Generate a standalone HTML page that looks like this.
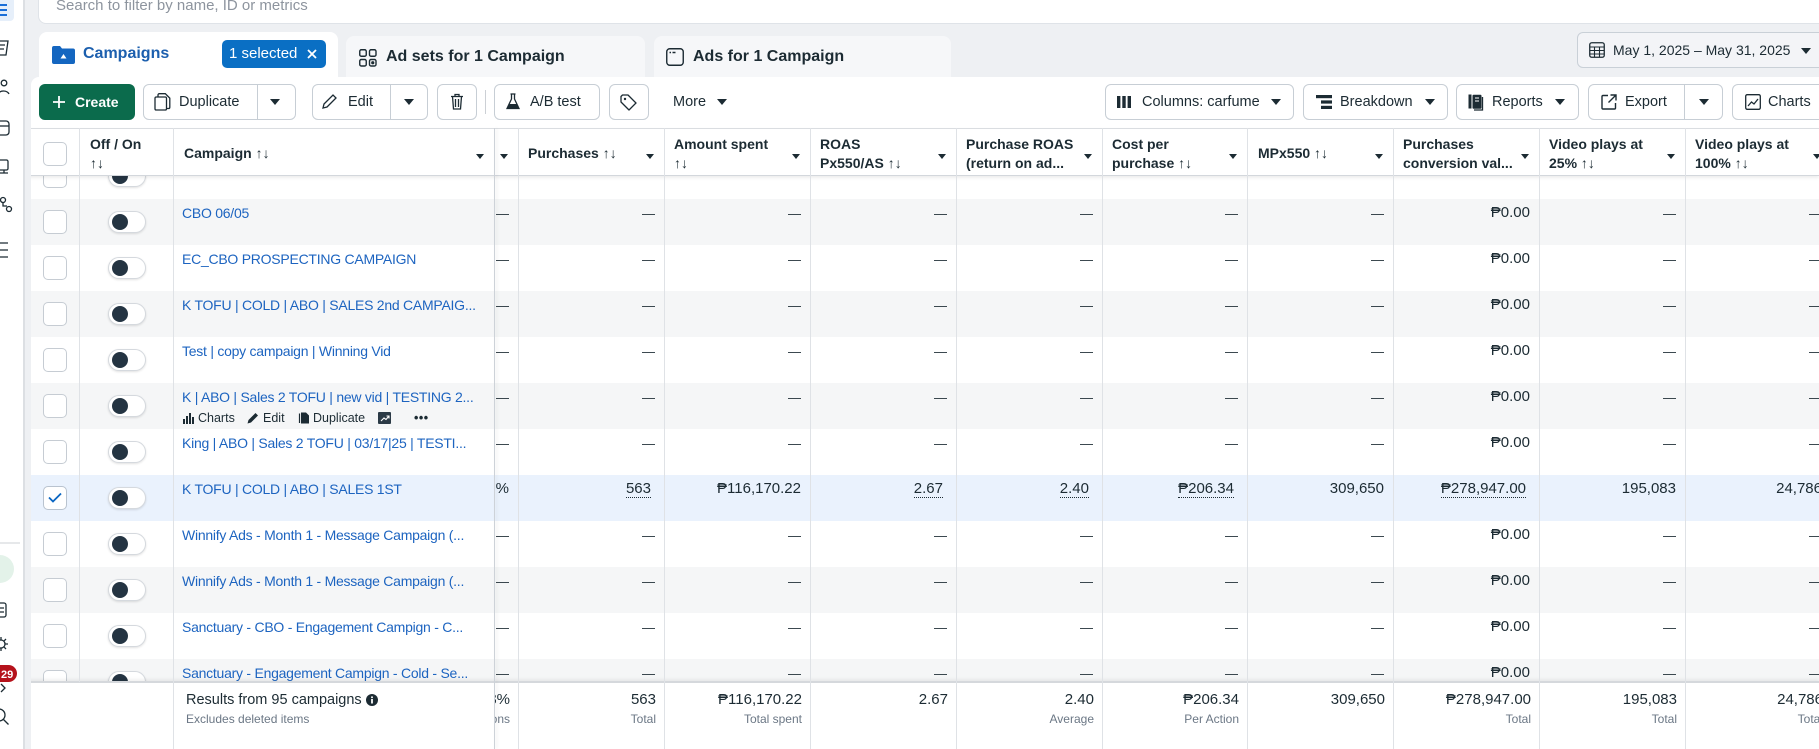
<!DOCTYPE html>
<html><head><meta charset="utf-8">
<style>
*{box-sizing:border-box}
body{margin:0;width:1819px;height:749px;overflow:hidden;position:relative;background:#eef0f3;font-family:"Liberation Sans",Arial,sans-serif;color:#1c2b33}
.a{position:absolute}
.btn{position:absolute;top:84px;height:36px;border:1px solid #c7ced5;border-radius:6px;background:#fff}
.bt{position:absolute;top:93px;font-size:14.5px;line-height:18px;white-space:nowrap;color:#1c2b33}
.car{position:absolute;width:0;height:0;border-left:5px solid transparent;border-right:5px solid transparent;border-top:6px solid #1c2b33}
.hc{position:absolute;width:0;height:0;border-left:4.5px solid transparent;border-right:4.5px solid transparent;border-top:5.5px solid #1c2b33;top:25px}
.r{position:absolute;left:0;width:1819px;height:46px}
.g{background:#f5f6f7}.w{background:#fff}.s{background:#eaf2fd}
.cb{position:absolute;left:43px;top:11px;width:24px;height:24px;border:1px solid #c6ccd3;border-radius:5px;background:#fff}
.tg{position:absolute;left:108px;top:12px;width:38px;height:22px;border:1px solid #d5d9de;border-radius:12px;background:#fff;box-shadow:0 1px 2px rgba(0,0,0,.12)}
.tg i{position:absolute;left:3px;top:2px;width:16px;height:16px;border-radius:50%;background:#243442}
.nm{position:absolute;left:182px;top:5px;font-size:14px;line-height:18px;color:#1d64c0;white-space:nowrap;letter-spacing:-0.25px}
.v{position:absolute;top:5px;font-size:15px;line-height:18px;white-space:nowrap;color:#1c2b33}
.d{font-size:13px;top:6px}
.u{border-bottom:1px dotted #1c2b33;line-height:16px}
.pc{position:absolute;left:495px;top:0;width:23px;height:46px;overflow:hidden}
.pc span{position:absolute;right:9px;white-space:nowrap}
.c1{right:1164px}.c2{right:1018px}.c3{right:872px}.c4{right:726px}.c5{right:581px}.c6{right:435px}.c7{right:289px}.c8{right:143px}.c9{right:-3px}
.ht{position:absolute;font-weight:bold;font-size:14px;line-height:19px;white-space:nowrap;color:#1c2b33}
.vl{position:absolute;top:128px;width:1px;height:621px;background:#dfe2e6;z-index:6}
.fv{position:absolute;top:8px;font-size:15px;line-height:18px;white-space:nowrap}
.fl{position:absolute;top:29px;font-size:12px;line-height:15px;color:#6b7785;white-space:nowrap}
.act{position:absolute;top:28px;font-size:12.5px;line-height:15px;color:#1c2b33;white-space:nowrap}
</style></head><body>

<!-- search -->
<div class="a" style="left:38px;top:-12px;width:1800px;height:36px;background:#fff;border:1px solid #dfe3e8;border-radius:8px"></div>
<div class="a" style="left:56px;top:-3px;font-size:15px;line-height:18px;color:#8d949e;white-space:nowrap">Search to filter by name, ID or metrics</div>

<!-- tabs -->
<div class="a" style="left:346px;top:36px;width:299px;height:45px;background:#f6f7f9;border-radius:8px 8px 0 0"></div>
<div class="a" style="left:654px;top:36px;width:297px;height:45px;background:#f6f7f9;border-radius:8px 8px 0 0"></div>
<!-- panel -->
<div class="a" style="left:31px;top:77px;width:1788px;height:672px;background:#fff;border-radius:8px 0 0 0"></div>
<div class="a" style="left:39px;top:32px;width:299px;height:50px;background:#fff;border-radius:8px 8px 0 0"></div>

<svg class="a" style="left:52px;top:45px" width="23" height="19" viewBox="0 0 23 19"><path d="M0 3a2 2 0 0 1 2-2h6l2 2.5h11a2 2 0 0 1 2 2V17a2 2 0 0 1-2 2H2a2 2 0 0 1-2-2z" fill="#1466c0"/><path d="M8.5 13.5l3-4.5 3 4.5z" fill="#fff"/></svg>
<div class="a" style="left:83px;top:44px;font-size:16px;line-height:20px;font-weight:bold;color:#1c5fae">Campaigns</div>
<div class="a" style="left:222px;top:40px;width:104px;height:28px;background:#0a6fc4;border-radius:5px"></div>
<div class="a" style="left:229px;top:45px;font-size:15px;line-height:18px;color:#fff;white-space:nowrap">1 selected</div>
<svg class="a" style="left:307px;top:49px" width="10" height="10"><path d="M1 1l8 8M9 1l-8 8" stroke="#fff" stroke-width="1.8"/></svg>

<svg class="a" style="left:359px;top:49px" width="18" height="18"><rect x="0.75" y="0.75" width="6.5" height="6.5" rx="1.5" fill="none" stroke="#1c2b33" stroke-width="1.4"/><rect x="10.5" y="0.75" width="6.5" height="6.5" rx="1.5" fill="none" stroke="#1c2b33" stroke-width="1.4"/><rect x="0.75" y="10.5" width="6.5" height="6.5" rx="1.5" fill="none" stroke="#1c2b33" stroke-width="1.4"/><rect x="10.5" y="10.5" width="6.5" height="6.5" rx="1.5" fill="none" stroke="#1c2b33" stroke-width="1.4"/><circle cx="13.75" cy="13.75" r="1.6" fill="#1c2b33"/></svg>
<div class="a" style="left:386px;top:47px;font-size:16px;line-height:20px;font-weight:bold;white-space:nowrap">Ad sets for 1 Campaign</div>
<svg class="a" style="left:666px;top:48px" width="18" height="18"><rect x="0.75" y="0.75" width="16.5" height="16.5" rx="3" fill="none" stroke="#1c2b33" stroke-width="1.4"/><path d="M3.5 4.5h1.5M6.5 4.5h3" stroke="#1c2b33" stroke-width="1.4"/></svg>
<div class="a" style="left:693px;top:47px;font-size:16px;line-height:20px;font-weight:bold;white-space:nowrap">Ads for 1 Campaign</div>

<!-- date picker -->
<div class="a" style="left:1577px;top:32px;width:270px;height:36px;border:1px solid #c9d0d7;border-radius:6px;background:#f3f4f7"></div>
<svg class="a" style="left:1589px;top:42px" width="16" height="16"><rect x="0.75" y="0.75" width="14.5" height="14.5" rx="2" fill="none" stroke="#1c2b33" stroke-width="1.3"/><path d="M0.75 5h14.5M0.75 8.5h14.5M0.75 12h14.5M5.5 5v10M10.5 5v10" stroke="#1c2b33" stroke-width="1.1"/></svg>
<div class="a" style="left:1613px;top:41px;font-size:14px;line-height:18px;white-space:nowrap">May 1, 2025 – May 31, 2025</div>
<div class="car" style="left:1801px;top:48px"></div>

<!-- toolbar -->
<div class="btn" style="left:39px;width:96px;background:#0b6b4c;border:none"></div>
<svg class="a" style="left:53px;top:96px" width="12" height="12"><path d="M6 0v12M0 6h12" stroke="#fff" stroke-width="1.8"/></svg>
<div class="bt" style="left:75px;color:#fff;font-weight:bold;font-size:14px">Create</div>

<div class="btn" style="left:143px;width:153px"></div>
<div class="a" style="left:257px;top:85px;width:1px;height:34px;background:#c7ced5"></div>
<svg class="a" style="left:154px;top:93px" width="17" height="18"><path d="M4 3.5V2a1.3 1.3 0 0 1 1.3-1.3h6l4.5 4.5v9a1.3 1.3 0 0 1-1.3 1.3H13" fill="none" stroke="#1c2b33" stroke-width="1.3"/><rect x="1" y="4" width="11.5" height="13" rx="1.3" fill="#fff" stroke="#1c2b33" stroke-width="1.3"/></svg>
<div class="bt" style="left:179px">Duplicate</div>
<div class="car" style="left:270px;top:99px"></div>

<div class="btn" style="left:312px;width:116px"></div>
<div class="a" style="left:390px;top:85px;width:1px;height:34px;background:#c7ced5"></div>
<svg class="a" style="left:322px;top:94px" width="15" height="15"><path d="M1 14l1-4 9-9 3 3-9 9z" fill="none" stroke="#1c2b33" stroke-width="1.3"/></svg>
<div class="bt" style="left:348px">Edit</div>
<div class="car" style="left:404px;top:99px"></div>

<div class="btn" style="left:437px;width:40px"></div>
<svg class="a" style="left:450px;top:93px" width="14" height="17"><path d="M1 3.5h12M5 3.5V1.5h4v2M2.5 3.5l1 12.5h7l1-12.5M5.5 6v8M8.5 6v8" fill="none" stroke="#1c2b33" stroke-width="1.3"/></svg>
<div class="a" style="left:485px;top:90px;width:1px;height:24px;background:#ccd0d5"></div>

<div class="btn" style="left:494px;width:106px"></div>
<svg class="a" style="left:506px;top:93px" width="14" height="17"><path d="M4.5 1h5M5.5 1v5L1 15.5h12L8.5 6V1" fill="none" stroke="#1c2b33" stroke-width="1.3"/><path d="M3 11h8l2 4.5H1z" fill="#1c2b33"/></svg>
<div class="bt" style="left:530px">A/B test</div>

<div class="btn" style="left:609px;width:40px"></div>
<svg class="a" style="left:620px;top:94px" width="17" height="17"><path d="M1 2.5V8l8 8 7-7-8-8H2.5z" fill="none" stroke="#1c2b33" stroke-width="1.3" stroke-linejoin="round"/><circle cx="5" cy="5" r="1.2" fill="#1c2b33"/></svg>

<div class="bt" style="left:673px">More</div>
<div class="car" style="left:717px;top:99px"></div>

<div class="btn" style="left:1105px;width:189px"></div>
<svg class="a" style="left:1117px;top:96px" width="14" height="12"><rect x="0" y="0" width="3.4" height="12" fill="#1c2b33"/><rect x="5.3" y="0" width="3.4" height="12" fill="#1c2b33"/><rect x="10.6" y="0" width="3.4" height="12" fill="#1c2b33"/></svg>
<div class="bt" style="left:1142px">Columns: carfume</div>
<div class="car" style="left:1271px;top:99px"></div>

<div class="btn" style="left:1303px;width:145px"></div>
<svg class="a" style="left:1316px;top:95px" width="16" height="14"><rect x="0" y="0" width="16" height="3.2" fill="#1c2b33"/><rect x="5" y="5.4" width="11" height="3.2" fill="#1c2b33"/><rect x="5" y="10.8" width="11" height="3.2" fill="#1c2b33"/></svg>
<div class="bt" style="left:1340px">Breakdown</div>
<div class="car" style="left:1425px;top:99px"></div>

<div class="btn" style="left:1456px;width:123px"></div>
<svg class="a" style="left:1468px;top:94px" width="16" height="17"><rect x="0.5" y="0.5" width="3" height="14" fill="#1c2b33"/><rect x="4.5" y="0.8" width="9" height="14" rx="1" fill="#1c2b33"/><path d="M7 4h4M7 7h4" stroke="#fff" stroke-width="1.1"/><path d="M14.5 3v13H6" fill="none" stroke="#1c2b33" stroke-width="1.3"/></svg>
<div class="bt" style="left:1492px">Reports</div>
<div class="car" style="left:1555px;top:99px"></div>

<div class="btn" style="left:1588px;width:135px"></div>
<div class="a" style="left:1684px;top:85px;width:1px;height:34px;background:#c7ced5"></div>
<svg class="a" style="left:1601px;top:94px" width="16" height="16"><path d="M7 1.5H2a1 1 0 0 0-1 1v11.5a1 1 0 0 0 1 1h11.5a1 1 0 0 0 1-1V9" fill="none" stroke="#1c2b33" stroke-width="1.4"/><path d="M9.5 1h5.5v5.5M15 1L7.5 8.5" fill="none" stroke="#1c2b33" stroke-width="1.4"/></svg>
<div class="bt" style="left:1625px">Export</div>
<div class="car" style="left:1699px;top:99px"></div>

<div class="btn" style="left:1732px;width:110px"></div>
<svg class="a" style="left:1745px;top:94px" width="16" height="16"><rect x="0.7" y="0.7" width="14.6" height="14.6" rx="1.5" fill="none" stroke="#1c2b33" stroke-width="1.3"/><path d="M3 12l3.5-4 2.5 2 4-5" fill="none" stroke="#1c2b33" stroke-width="1.3"/></svg>
<div class="bt" style="left:1768px">Charts</div>

<!-- rows -->
<div class="r w" style="top:153px"><div class="cb"></div><div class="tg"><i></i></div></div>

<div class="r g" style="top:199px"><div class="cb"></div><div class="tg"><i></i></div><div class="nm">CBO 06/05</div><div class="pc"><span class="v d">—</span></div><span class="v d c1">—</span><span class="v d c2">—</span><span class="v d c3">—</span><span class="v d c4">—</span><span class="v d c5">—</span><span class="v d c6">—</span><span class="v c7">₱0.00</span><span class="v d c8">—</span><span class="v d c9">—</span></div>

<div class="r w" style="top:245px"><div class="cb"></div><div class="tg"><i></i></div><div class="nm">EC_CBO PROSPECTING CAMPAIGN</div><div class="pc"><span class="v d">—</span></div><span class="v d c1">—</span><span class="v d c2">—</span><span class="v d c3">—</span><span class="v d c4">—</span><span class="v d c5">—</span><span class="v d c6">—</span><span class="v c7">₱0.00</span><span class="v d c8">—</span><span class="v d c9">—</span></div>

<div class="r g" style="top:291px"><div class="cb"></div><div class="tg"><i></i></div><div class="nm">K TOFU | COLD | ABO | SALES 2nd CAMPAIG...</div><div class="pc"><span class="v d">—</span></div><span class="v d c1">—</span><span class="v d c2">—</span><span class="v d c3">—</span><span class="v d c4">—</span><span class="v d c5">—</span><span class="v d c6">—</span><span class="v c7">₱0.00</span><span class="v d c8">—</span><span class="v d c9">—</span></div>

<div class="r w" style="top:337px"><div class="cb"></div><div class="tg"><i></i></div><div class="nm">Test | copy campaign | Winning Vid</div><div class="pc"><span class="v d">—</span></div><span class="v d c1">—</span><span class="v d c2">—</span><span class="v d c3">—</span><span class="v d c4">—</span><span class="v d c5">—</span><span class="v d c6">—</span><span class="v c7">₱0.00</span><span class="v d c8">—</span><span class="v d c9">—</span></div>

<div class="r g" style="top:383px"><div class="cb"></div><div class="tg"><i></i></div><div class="nm">K | ABO | Sales 2 TOFU | new vid | TESTING 2...</div><div class="pc"><span class="v d">—</span></div><span class="v d c1">—</span><span class="v d c2">—</span><span class="v d c3">—</span><span class="v d c4">—</span><span class="v d c5">—</span><span class="v d c6">—</span><span class="v c7">₱0.00</span><span class="v d c8">—</span><span class="v d c9">—</span>
<svg class="a" style="left:183px;top:29px" width="11" height="12"><rect x="0" y="7" width="2" height="5" fill="#1c2b33"/><rect x="3" y="4" width="2" height="8" fill="#1c2b33"/><rect x="6" y="1" width="2" height="11" fill="#1c2b33"/><rect x="9" y="5" width="2" height="7" fill="#1c2b33"/></svg>
<span class="act" style="left:198px">Charts</span>
<svg class="a" style="left:247px;top:29px" width="12" height="12"><path d="M0.5 11.5l1-3.5 7-7 2.5 2.5-7 7z" fill="#1c2b33"/></svg>
<span class="act" style="left:263px">Edit</span>
<svg class="a" style="left:297px;top:29px" width="12" height="12"><path d="M2.5 1.5v9.5" stroke="#1c2b33" stroke-width="1.2" fill="none"/><path d="M4 0.5h5l3 3v8H4z" fill="#1c2b33"/></svg>
<span class="act" style="left:313px">Duplicate</span>
<svg class="a" style="left:378px;top:29px" width="13" height="12"><rect x="0" y="0" width="13" height="12" rx="1" fill="#2b3a46"/><path d="M3 9l3-3 2 1.5L11 4M8.5 4H11v2.5" fill="none" stroke="#fff" stroke-width="1.1"/></svg>
<span class="act" style="left:414px;top:28px;font-weight:bold;letter-spacing:0.5px">•••</span>
</div>

<div class="r w" style="top:429px"><div class="cb"></div><div class="tg"><i></i></div><div class="nm">King | ABO | Sales 2 TOFU | 03/17|25 | TESTI...</div><div class="pc"><span class="v d">—</span></div><span class="v d c1">—</span><span class="v d c2">—</span><span class="v d c3">—</span><span class="v d c4">—</span><span class="v d c5">—</span><span class="v d c6">—</span><span class="v c7">₱0.00</span><span class="v d c8">—</span><span class="v d c9">—</span></div>

<div class="r s" style="top:475px"><div class="cb" style="border-color:#b9c3cf"><svg style="position:absolute;left:4px;top:5px" width="14" height="11"><path d="M1 5.5l4 4L13 1.5" fill="none" stroke="#0a66c2" stroke-width="1.8"/></svg></div><div class="tg"><i></i></div><div class="nm">K TOFU | COLD | ABO | SALES 1ST</div><div class="pc"><span class="v">3%</span></div><span class="v c1" style="right:1168px"><span class="u">563</span></span><span class="v c2">₱116,170.22</span><span class="v c3" style="right:876px"><span class="u">2.67</span></span><span class="v c4" style="right:730px"><span class="u">2.40</span></span><span class="v c5" style="right:585px"><span class="u">₱206.34</span></span><span class="v c6">309,650</span><span class="v c7" style="right:293px"><span class="u">₱278,947.00</span></span><span class="v c8">195,083</span><span class="v c9">24,786</span></div>

<div class="r w" style="top:521px"><div class="cb"></div><div class="tg"><i></i></div><div class="nm">Winnify Ads - Month 1 - Message Campaign (...</div><div class="pc"><span class="v d">—</span></div><span class="v d c1">—</span><span class="v d c2">—</span><span class="v d c3">—</span><span class="v d c4">—</span><span class="v d c5">—</span><span class="v d c6">—</span><span class="v c7">₱0.00</span><span class="v d c8">—</span><span class="v d c9">—</span></div>

<div class="r g" style="top:567px"><div class="cb"></div><div class="tg"><i></i></div><div class="nm">Winnify Ads - Month 1 - Message Campaign (...</div><div class="pc"><span class="v d">—</span></div><span class="v d c1">—</span><span class="v d c2">—</span><span class="v d c3">—</span><span class="v d c4">—</span><span class="v d c5">—</span><span class="v d c6">—</span><span class="v c7">₱0.00</span><span class="v d c8">—</span><span class="v d c9">—</span></div>

<div class="r w" style="top:613px"><div class="cb"></div><div class="tg"><i></i></div><div class="nm">Sanctuary - CBO - Engagement Campign - C...</div><div class="pc"><span class="v d">—</span></div><span class="v d c1">—</span><span class="v d c2">—</span><span class="v d c3">—</span><span class="v d c4">—</span><span class="v d c5">—</span><span class="v d c6">—</span><span class="v c7">₱0.00</span><span class="v d c8">—</span><span class="v d c9">—</span></div>

<div class="r g" style="top:659px"><div class="cb"></div><div class="tg"><i></i></div><div class="nm">Sanctuary - Engagement Campign - Cold - Se...</div><div class="pc"><span class="v d">—</span></div><span class="v d c1">—</span><span class="v d c2">—</span><span class="v d c3">—</span><span class="v d c4">—</span><span class="v d c5">—</span><span class="v d c6">—</span><span class="v c7">₱0.00</span><span class="v d c8">—</span><span class="v d c9">—</span></div>

<!-- header -->
<div class="a" style="left:0;top:128px;width:1819px;height:48px;background:#fff;border-top:1px solid #dadde1;border-bottom:1px solid #d3d7dc;box-shadow:0 2px 3px rgba(0,0,0,.07);z-index:5">
 <div class="cb" style="top:13px"></div>
 <div class="ht" style="left:90px;top:6px">Off / On<br>↑↓</div>
 <div class="ht" style="left:184px;top:15px">Campaign ↑↓</div>
 <div class="hc" style="left:476px"></div>
 <div class="hc" style="left:500px"></div>
 <div class="ht" style="left:528px;top:15px">Purchases ↑↓</div>
 <div class="hc" style="left:646px"></div>
 <div class="ht" style="left:674px;top:6px">Amount spent<br>↑↓</div>
 <div class="hc" style="left:792px"></div>
 <div class="ht" style="left:820px;top:6px">ROAS<br>Px550/AS ↑↓</div>
 <div class="hc" style="left:938px"></div>
 <div class="ht" style="left:966px;top:6px">Purchase ROAS<br>(return on ad...</div>
 <div class="hc" style="left:1084px"></div>
 <div class="ht" style="left:1112px;top:6px">Cost per<br>purchase ↑↓</div>
 <div class="hc" style="left:1229px"></div>
 <div class="ht" style="left:1258px;top:15px">MPx550 ↑↓</div>
 <div class="hc" style="left:1375px"></div>
 <div class="ht" style="left:1403px;top:6px">Purchases<br>conversion val...</div>
 <div class="hc" style="left:1521px"></div>
 <div class="ht" style="left:1549px;top:6px">Video plays at<br>25% ↑↓</div>
 <div class="hc" style="left:1667px"></div>
 <div class="ht" style="left:1695px;top:6px">Video plays at<br>100% ↑↓</div>
 <div class="hc" style="left:1813px"></div>
</div>

<!-- footer -->
<div class="a" style="left:0;top:681px;width:1819px;height:68px;background:#fff;border-top:2px solid #d5d8dc;box-shadow:0 -2px 3px rgba(0,0,0,.06);z-index:5">
 <div class="a" style="left:186px;top:8px;font-size:14.5px;line-height:18px;white-space:nowrap">Results from 95 campaigns</div>
 <svg class="a" style="left:366px;top:11px" width="12" height="12"><circle cx="6" cy="6" r="6" fill="#1c2b33"/><rect x="5.1" y="5" width="1.8" height="4.5" fill="#fff"/><circle cx="6" cy="3.2" r="1" fill="#fff"/></svg>
 <div class="fl" style="left:186px">Excludes deleted items</div>
 <div class="a" style="left:495px;top:0;width:23px;height:66px;overflow:hidden">
  <span class="fv" style="right:8px">3%</span><span class="fl" style="right:8px">ons</span>
 </div>
 <span class="fv c1" style="right:1163px">563</span><span class="fl" style="right:1163px">Total</span>
 <span class="fv" style="right:1017px">₱116,170.22</span><span class="fl" style="right:1017px">Total spent</span>
 <span class="fv" style="right:871px">2.67</span>
 <span class="fv" style="right:725px">2.40</span><span class="fl" style="right:725px">Average</span>
 <span class="fv" style="right:580px">₱206.34</span><span class="fl" style="right:580px">Per Action</span>
 <span class="fv" style="right:434px">309,650</span>
 <span class="fv" style="right:288px">₱278,947.00</span><span class="fl" style="right:288px">Total</span>
 <span class="fv" style="right:142px">195,083</span><span class="fl" style="right:142px">Total</span>
 <span class="fv" style="right:-4px">24,786</span><span class="fl" style="right:-4px">Total</span>
</div>

<!-- vertical lines -->
<div class="vl" style="left:79px;height:554px"></div>
<div class="vl" style="left:173px"></div>
<div class="vl" style="left:518px"></div>
<div class="vl" style="left:664px"></div>
<div class="vl" style="left:810px"></div>
<div class="vl" style="left:956px"></div>
<div class="vl" style="left:1102px"></div>
<div class="vl" style="left:1247px"></div>
<div class="vl" style="left:1393px"></div>
<div class="vl" style="left:1539px"></div>
<div class="vl" style="left:1685px"></div>
<div class="vl" style="left:494px;background:#cdd2d8;box-shadow:2px 0 3px rgba(0,0,0,.10)"></div>

<!-- sidebar -->
<div class="a" style="left:0;top:0;width:31px;height:749px;background:#eef0f3;z-index:10">
 <div class="a" style="left:0;top:0;width:23px;height:749px;background:#fff"></div>
 <div class="a" style="left:23px;top:0;width:2px;height:749px;background:#dcdfe3"></div>
 <svg class="a" style="left:0;top:0" width="23" height="749">
  <rect x="-6" y="-6" width="20" height="27" rx="4" fill="#e6effa"/>
  <path d="M0 5h7M0 10h7M0 15h7" stroke="#1b6fd8" stroke-width="2"/>
  <g fill="none" stroke="#1c2b33" stroke-width="1.3">
   <path d="M-3 41h11l-2 14H-4z"/><path d="M0 45h5M0 49h4"/>
   <circle cx="4" cy="83" r="2.8"/><path d="M-2 94a6 5 0 0 1 11 0"/>
   <rect x="-5" y="121" width="14" height="14" rx="3"/><path d="M-5 126h14"/>
   <rect x="-6" y="160" width="14" height="10" rx="1.5"/><path d="M4 170v3M0 173h8"/>
   <circle cx="3" cy="200" r="2.5"/><circle cx="9" cy="209" r="2.5"/><path d="M3 202.5v3.5h4"/>
   <path d="M0 243h8M0 250h8M0 257h8"/>
   <rect x="-6" y="603" width="12" height="14" rx="2"/><path d="M0 608h4M0 612h4"/>
   <circle cx="1" cy="644" r="4"/><path d="M1 637v2.5M1 648.5v2.5M8 644h-2.5M-6 644h2.5M6 639l-1.8 1.8M6 649l-1.8-1.8"/>
   <path d="M1 684l4 4-4 4"/>
   <circle cx="-1" cy="715" r="6"/><path d="M3.5 719.5l5 5"/>
  </g>
  <path d="M0 543h20" stroke="#ccd0d5" stroke-width="1"/>
  <circle cx="0" cy="569" r="14" fill="#e3f2e9"/>
  <rect x="-10" y="665" width="27" height="17" rx="8.5" fill="#b5121b"/>
  <text x="1" y="678" font-family="Liberation Sans, Arial, sans-serif" font-size="11" font-weight="bold" fill="#fff">29</text>
 </svg>
</div>

</body></html>
